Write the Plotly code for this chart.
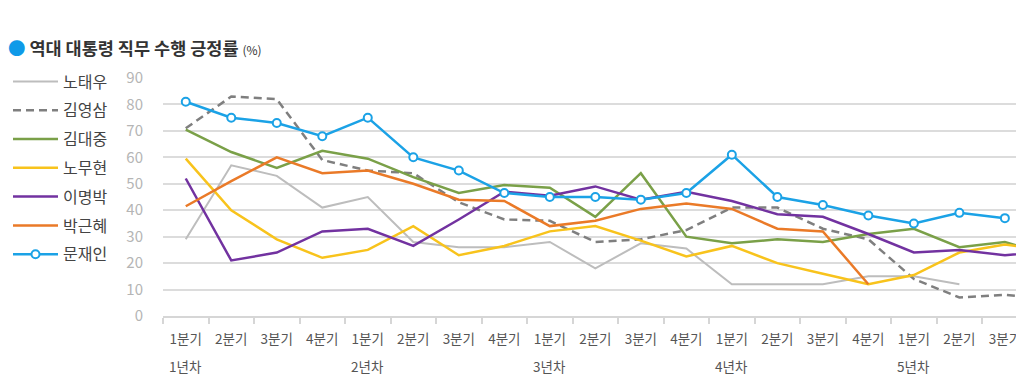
import plotly.graph_objects as go

quarters = ["1분기", "2분기", "3분기", "4분기"] * 5
years = ["1년차", "2년차", "3년차", "4년차", "5년차"]
x_idx = list(range(20))
year_idx = [0, 4, 8, 12, 16]

roh_tw = [29, 57, 53, 41, 45, 28, 26, 26, 28, 18, 27.5, 25.5, 12, 12, 12, 15, 15, 12, None, None]
kim_ys = [71, 83, 82, 59, 55, 54, 43, 36.5, 36, 28, 29, 32.5, 41, 41, 33, 29, 14, 7, 8, 6.5]
kim_dj = [70.5, 62, 56, 62.5, 59.5, 52.5, 46.5, 49.5, 48.5, 37.5, 54, 30, 27.5, 29, 28, 31, 33, 26, 28, 23]
roh_mh = [59.5, 40, 29, 22, 25, 34, 23, 26.5, 32, 34, 28.5, 22.5, 26.5, 20, 16, 12, 15.5, 24, 27, 25]
lee_mb = [52, 21, 24, 32, 33, 26.5, 36.5, 47, 45.5, 49, 44, 47, 43.5, 38.5, 37.5, 31, 24, 25, 23, 24.5]
park_gh = [41.5, 51, 60, 54, 55, 50, 44, 43.5, 34, 36, 40.5, 42.5, 40.5, 33, 32, 12, None, None, None, None]
moon_ji = [81, 75, 73, 68, 75, 60, 55, 46.5, 45, 45, 44, 46.5, 61, 45, 42, 38, 35, 39, 37, None]

series = [
    ("노태우", roh_tw, "#bdbdbd", "solid", 2, False),
    ("김영삼", kim_ys, "#7f7f7f", "8px,5px", 2.5, False),
    ("김대중", kim_dj, "#7aa048", "solid", 2.5, False),
    ("노무현", roh_mh, "#f8c31c", "solid", 2.5, False),
    ("이명박", lee_mb, "#7232a0", "solid", 2.5, False),
    ("박근혜", park_gh, "#ea7a28", "solid", 2.5, False),
    ("문재인", moon_ji, "#1ba2e6", "solid", 2.5, True),
]

FONT = "Noto Sans CJK KR"
W, H = 1016, 378  # page body has an 8px margin

fig = go.Figure()
for name, vals, color, dash, w, mk in series:
    fig.add_trace(go.Scatter(
        x=x_idx, y=vals, name=name, legendgroup=name,
        mode="lines+markers" if mk else "lines",
        line=dict(color=color, width=w, dash=dash),
        marker=dict(size=8, color="white", line=dict(color=color, width=2)) if mk else None,
        connectgaps=False,
    ))

for xi, yl in zip(year_idx, years):
    fig.add_annotation(x=xi, y=0, yref="paper", yanchor="middle", yshift=-50,
                       text=yl, showarrow=False,
                       font=dict(family=FONT, size=13.5, color="#555555"))

fig.update_layout(
    template="none",
    width=W, height=H,
    margin=dict(l=155.3, r=0, t=70.3, b=70.3, autoexpand=False),
    paper_bgcolor="white", plot_bgcolor="white",
    font=dict(family=FONT),
    showlegend=True,
    title=dict(
        text="<span style='color:#0f9ae8'>●</span> <b>역대 대통령 직무 수행 긍정률</b> <span style='font-size:12px'>(%)</span>",
        x=0.0, xanchor="left", xref="container",
        y=1 - 41 / H, yanchor="middle", yref="container",
        font=dict(family=FONT, size=17.5, color="#333333"),
    ),
    legend=dict(
        xref="container", yref="container",
        x=0.0, xanchor="left", y=1 - 56.5 / H, yanchor="top",
        font=dict(family=FONT, size=16, color="#444444"),
        tracegroupgap=5, itemwidth=45, maxheight=1000,
        bgcolor="rgba(0,0,0,0)", borderwidth=0,
    ),
    xaxis=dict(
        range=[-0.5, 18.42], tickmode="array", tickvals=x_idx, ticktext=quarters,
        ticks="", showgrid=False, zeroline=False, automargin=False,
        showline=True, linecolor="#d6d6d6", linewidth=1.5,
        ticklabelstandoff=10,
        tickfont=dict(family=FONT, size=13.5, color="#555555"),
        minor=dict(tickvals=[i - 0.5 for i in range(21)], ticks="outside",
                   ticklen=6, tickcolor="#d6d6d6", tickwidth=1.5, showgrid=False),
    ),
    yaxis=dict(
        range=[0, 90], tickmode="array", tickvals=list(range(0, 91, 10)),
        showgrid=True, gridcolor="#dcdcdc", gridwidth=1.5, zeroline=False,
        showline=False, automargin=False,
        ticks="", ticklabelstandoff=19,
        tickfont=dict(family=FONT, size=15, color="#b5b5b5"),
    ),
)

fig.write_html("out.html")
